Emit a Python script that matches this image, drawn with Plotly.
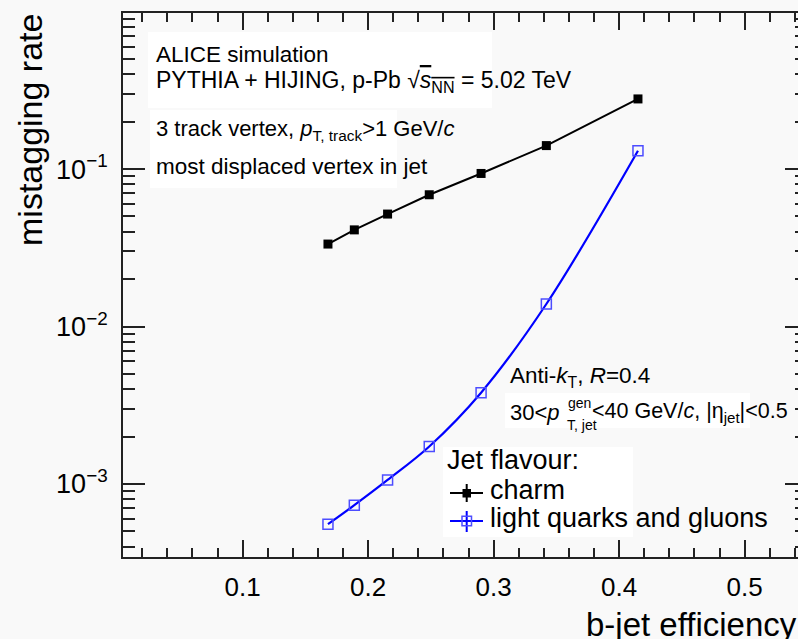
import plotly.graph_objects as go

# ---------------- data ----------------
b_eff = [0.168, 0.189, 0.2155, 0.2487, 0.290, 0.342, 0.415]
charm_mistag = [0.0334, 0.0411, 0.0518, 0.0687, 0.0938, 0.141, 0.279]
light_mistag = [0.000555, 0.000733, 0.00106, 0.00173, 0.0038, 0.0139, 0.1307]

x_tickvals = [0.1, 0.2, 0.3, 0.4, 0.5]
x_ticktext = ["0.1", "0.2", "0.3", "0.4", "0.5"]
y_tickvals = [1e-3, 1e-2, 1e-1]
y_ticktext = ["10<sup>\u22123</sup>", "10<sup>\u22122</sup>", "10<sup>\u22121</sup>"]

# ---------------- geometry ----------------
W, H = 798, 639
ML, MT, MB, MR = 123, 13, 82, 0
PW, PH = W - ML - MR, H - MT - MB

def X(px):
    return (px - ML) / PW

def Y(py):
    return (H - MB - py) / PH

FONT = "Liberation Sans, Arial, Helvetica, sans-serif"
BG = "#f9f9f9"
AX = "#222222"

y_minor = [k * 10.0 ** e for e in range(-4, 0) for k in range(2, 10)]

fig = go.Figure()

fig.add_trace(go.Scatter(
    x=b_eff, y=charm_mistag, mode="lines+markers", name="charm",
    line=dict(color="black", width=2),
    marker=dict(symbol="square", size=9, color="black"),
    showlegend=False,
))
fig.add_trace(go.Scatter(
    x=b_eff, y=light_mistag, mode="lines+markers", name="light quarks and gluons",
    line=dict(color="#0000ff", width=2.2, shape="spline", smoothing=1.0),
    marker=dict(symbol="square-open", size=10, color="#4d4dff", line=dict(width=1.5)),
    showlegend=False,
))
# dummy trace to anchor the right-hand mirrored tick axis
fig.add_trace(go.Scatter(x=[None], y=[None], yaxis="y2", showlegend=False, hoverinfo="skip"))

yr = [-3.464, -0.0086]
fig.update_layout(
    width=W, height=H,
    margin=dict(l=ML, r=MR, t=MT, b=MB, pad=0, autoexpand=False),
    paper_bgcolor=BG, plot_bgcolor=BG,
    font=dict(family=FONT, color="black", size=26),
    xaxis=dict(
        range=[0.0047, 0.5425], showgrid=False, zeroline=False, automargin=False,
        showline=True, linecolor=AX, linewidth=1.8, mirror="ticks",
        ticks="inside", ticklen=17, tickwidth=1.5, tickcolor=AX,
        tickmode="array", tickvals=x_tickvals, ticktext=x_ticktext,
        tickfont=dict(size=26, family=FONT, color="black"),
        ticklabelstandoff=6,
        minor=dict(ticks="inside", dtick=0.02, tick0=0, ticklen=9, tickwidth=1.5, tickcolor=AX, showgrid=False),
    ),
    yaxis=dict(
        type="log", range=yr, showgrid=False, zeroline=False, automargin=False,
        showline=True, linecolor=AX, linewidth=1.8, mirror=False,
        ticks="inside", ticklen=22, tickwidth=1.5, tickcolor=AX,
        tickmode="array", tickvals=y_tickvals, ticktext=y_ticktext,
        tickfont=dict(size=27, family=FONT, color="black"),
        ticklabelstandoff=8,
        minor=dict(ticks="inside", tickmode="array", tickvals=y_minor, ticklen=12, tickwidth=1.5, tickcolor=AX, showgrid=False),
    ),
    yaxis2=dict(
        type="log", range=yr, overlaying="y", side="right", showgrid=False, zeroline=False,
        showline=False, showticklabels=False, automargin=False,
        ticks="inside", ticklen=13, tickwidth=1.5, tickcolor=AX,
        tickmode="array", tickvals=y_tickvals,
        minor=dict(ticks="inside", tickmode="array", tickvals=y_minor, ticklen=3, tickwidth=1.5, tickcolor=AX, showgrid=False),
    ),
)

shapes = []
def box(x0, y0, x1, y1):
    shapes.append(dict(type="rect", xref="paper", yref="paper",
                       x0=X(x0), x1=X(x1), y0=Y(y1), y1=Y(y0),
                       fillcolor="white", line=dict(width=0), layer="below"))

box(148, 32, 492, 108)
box(150, 110, 397, 188)
box(505, 393, 750, 428)
box(443, 447, 633, 537)

# legend samples
def seg(x0, y0, x1, y1, color, w=2):
    shapes.append(dict(type="line", xref="paper", yref="paper",
                       x0=X(x0), x1=X(x1), y0=Y(y0), y1=Y(y1),
                       line=dict(color=color, width=w), layer="above"))

seg(450, 493, 483, 493, "black", 2)
seg(466.7, 484, 466.7, 502, "black", 2)
shapes.append(dict(type="rect", xref="paper", yref="paper",
                   x0=X(462.5), x1=X(471), y0=Y(497.5), y1=Y(489),
                   fillcolor="black", line=dict(width=0), layer="above"))
seg(450, 521, 483, 521, "#0000ff", 2)
seg(466.7, 511, 466.7, 532, "#0000ff", 2)
shapes.append(dict(type="rect", xref="paper", yref="paper",
                   x0=X(462), x1=X(471.5), y0=Y(525.7), y1=Y(516.3),
                   fillcolor="rgba(0,0,0,0)", line=dict(color="#4d4dff", width=1.5), layer="above"))

fig.update_layout(shapes=shapes)

def txt(s, px, py, size=22.5, xanchor="left", yanchor="middle", angle=0):
    fig.add_annotation(text=s, x=X(px), y=Y(py), xref="paper", yref="paper",
                       xanchor=xanchor, yanchor=yanchor, showarrow=False, textangle=angle,
                       font=dict(size=size, family=FONT, color="black"))

txt("ALICE simulation", 154, 55)
txt("PYTHIA + HIJING, p-Pb \u221a<span style='text-decoration:overline'><i>s</i><sub>NN</sub></span> = 5.02 TeV", 154, 81, size=23)
txt("3 track vertex, <i>p</i><sub>T, track</sub>>1 GeV/<i>c</i>", 154, 130, size=22)
txt("most displaced vertex in jet", 154, 166)

txt("Anti-<i>k</i><sub>T</sub>, <i>R</i>=0.4", 508, 377)
txt("30<<i>p</i>", 508, 412, size=22)
txt("gen", 566, 403, size=14)
txt("T, jet", 565, 425, size=14)
txt("<40 GeV/<i>c</i>, |\u03b7<sub>jet</sub>|<0.5", 590, 412, size=21.5)

txt("Jet flavour:", 445, 460, size=27)
txt("charm", 488, 490, size=27)
txt("light quarks and gluons", 488, 518, size=27)

txt("mistagging rate", 30, 130, size=34, xanchor="center", yanchor="middle", angle=-90)
txt("b-jet efficiency", 584, 624, size=33)

fig.write_html(
    "out.html",
    config={"displayModeBar": False},
    post_script="document.body.style.margin='0';document.body.style.background='#f9f9f9';document.body.style.overflow='hidden';",
)
